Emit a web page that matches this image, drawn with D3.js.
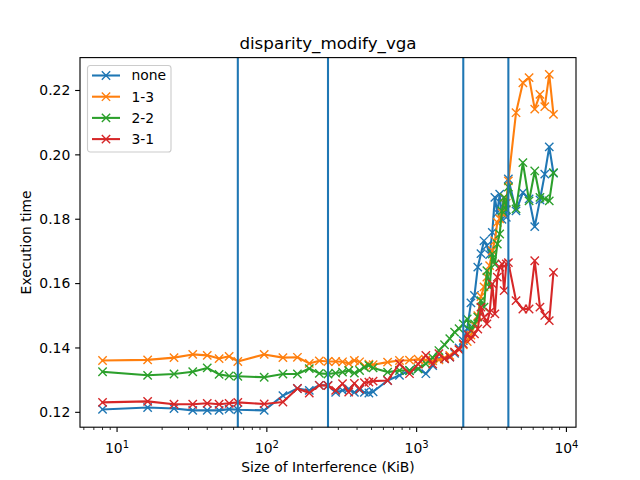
<!DOCTYPE html>
<html>
<head>
<meta charset="utf-8">
<script src="https://cdn.jsdelivr.net/npm/d3@7"></script>
<style>
  body { margin: 0; background: #fff; }
  text { font-family: "DejaVu Sans", sans-serif; fill: #000; }
</style>
</head>
<body>
<svg id="chart" width="640" height="480"></svg>
<script>
// Interference sizes in KiB (x values)
var sizes = [8, 16, 24, 32, 40, 48, 56, 64,
  96, 128, 160, 192, 224, 256,
  288, 320, 352, 384, 416, 448, 480, 512,
  640, 768, 896, 1024, 1152, 1280, 1408, 1536, 1664, 1792, 1920, 2048,
  2176, 2304, 2432, 2560, 2688, 2816, 2944, 3072, 3200, 3328, 3456, 3584, 3712, 3840, 3968, 4096,
  4608, 5120, 5632, 6144, 6656, 7168, 7680, 8192];

// Execution time for each configuration
var none = [0.1209, 0.1215, 0.1212, 0.1206, 0.1206, 0.1206, 0.1210, 0.1208,
  0.1206, 0.1252, 0.1274, 0.1268, 0.1284, 0.1284,
  0.1262, 0.1268, 0.1273, 0.1262, 0.1270, 0.1262, 0.1260, 0.1264,
  0.1299, 0.1315, 0.1330, 0.1335, 0.1320, 0.1345, 0.1367, 0.1367, 0.1372, 0.1383, 0.1400, 0.1423,
  0.1460, 0.1540, 0.1563, 0.1651, 0.1693, 0.1733, 0.1718, 0.1690, 0.1759, 0.1868, 0.1820, 0.1878, 0.1800, 0.1850, 0.1806, 0.1925,
  0.1826, 0.1883, 0.1863, 0.1777, 0.1860, 0.1940, 0.2025, 0.1943];

var s13 = [0.1361, 0.1363, 0.1370, 0.1380, 0.1377, 0.1367, 0.1374, 0.1358,
  0.1380, 0.1370, 0.1371, 0.1352, 0.1360, 0.1358,
  0.1358, 0.1357, 0.1352, 0.1361, 0.1357, 0.1343, 0.1350, 0.1348,
  0.1356, 0.1361, 0.1362, 0.1365, 0.1362, 0.1360, 0.1363, 0.1370, 0.1377, 0.1387, 0.1395, 0.1410,
  0.1420, 0.1440, 0.1470, 0.1500, 0.1560, 0.1590, 0.1620, 0.1656, 0.1702, 0.1733, 0.1790, 0.1801, 0.1820, 0.1868, 0.1850, 0.1919,
  0.2131, 0.2224, 0.2240, 0.2142, 0.2188, 0.2150, 0.2250, 0.2126];

var s22 = [0.1326, 0.1315, 0.1319, 0.1326, 0.1338, 0.1318, 0.1313, 0.1312,
  0.1309, 0.1319, 0.1319, 0.1336, 0.1321, 0.1319,
  0.1322, 0.1325, 0.1330, 0.1322, 0.1330, 0.1340, 0.1346, 0.1338,
  0.1325, 0.1330, 0.1330, 0.1335, 0.1351, 0.1370, 0.1392, 0.1410, 0.1429, 0.1449, 0.1460, 0.1475,
  0.1490, 0.1454, 0.1475, 0.1496, 0.1547, 0.1527, 0.1640, 0.1589, 0.1692, 0.1660, 0.1723, 0.1754, 0.1826, 0.1868, 0.1830, 0.1900,
  0.1832, 0.1976, 0.1857, 0.1950, 0.1868, 0.1863, 0.1857, 0.1945];

var s31 = [0.1231, 0.1234, 0.1225, 0.1225, 0.1228, 0.1225, 0.1228, 0.1231,
  0.1226, 0.1232, 0.1274, 0.1260, 0.1284, 0.1283,
  0.1268, 0.1289, 0.1263, 0.1290, 0.1272, 0.1292, 0.1294, 0.1297,
  0.1299, 0.1351, 0.1320, 0.1350, 0.1377, 0.1350, 0.1382, 0.1366, 0.1372, 0.1387, 0.1395, 0.1413,
  0.1444, 0.1428, 0.1444, 0.1459, 0.1527, 0.1496, 0.1475, 0.1511, 0.1599, 0.1506, 0.1620, 0.1651, 0.1661, 0.1578, 0.1661, 0.1665,
  0.1547, 0.1521, 0.1521, 0.1671, 0.1527, 0.1501, 0.1485, 0.1635];

var seriesNames = ["none", "1-3", "2-2", "3-1"];
var seriesColors = ["#1f77b4", "#ff7f0e", "#2ca02c", "#d62728"];
var seriesValues = [none, s13, s22, s31];

// Cache size markers (KiB)
var cacheLines = [64, 256, 2048, 4096];

var yTicks = [0.12, 0.14, 0.16, 0.18, 0.20, 0.22];
var xTicks = [10, 100, 1000, 10000];

var svg = d3.select("#chart");
// plot area (window.top is reserved, so use own names)
var axL = 80, axR = 576, axT = 57.6, axB = 427.2;

// log x scale with 5% margins like matplotlib
var lx = [Math.log10(d3.min(sizes)), Math.log10(d3.max(sizes))];
var padX = (lx[1] - lx[0]) * 0.05;
var x = d3.scaleLog()
  .domain([Math.pow(10, lx[0] - padX), Math.pow(10, lx[1] + padX)])
  .range([axL, axR]);

var allVals = d3.merge(seriesValues);
var ymin = d3.min(allVals), ymax = d3.max(allVals);
var padY = (ymax - ymin) * 0.05;
var y = d3.scaleLinear()
  .domain([ymin - padY, ymax + padY])
  .range([axB, axT]);

svg.append("rect").attr("width", 640).attr("height", 480).attr("fill", "#fff");

var plot = svg.append("g");

// lines and x markers
var line = d3.line()
  .x((d, i) => x(sizes[i]))
  .y(d => y(d));

seriesValues.forEach((vals, k) => {
  var g = plot.append("g");
  g.append("path")
    .attr("d", line(vals))
    .attr("fill", "none")
    .attr("stroke", seriesColors[k])
    .attr("stroke-width", 2.08)
    .attr("stroke-linejoin", "round")
    .attr("stroke-linecap", "square");
  var m = 4.17;
  g.selectAll("path.mk")
    .data(vals)
    .enter()
    .append("path")
    .attr("class", "mk")
    .attr("d", (d, i) => {
      var cx = x(sizes[i]), cy = y(d);
      return "M" + (cx - m) + "," + (cy - m) + "L" + (cx + m) + "," + (cy + m) +
        "M" + (cx - m) + "," + (cy + m) + "L" + (cx + m) + "," + (cy - m);
    })
    .attr("stroke", seriesColors[k])
    .attr("stroke-width", 1.39)
    .attr("fill", "none");
});

// vertical cache lines
plot.selectAll("line.cache")
  .data(cacheLines)
  .enter()
  .append("line")
  .attr("x1", d => x(d)).attr("x2", d => x(d))
  .attr("y1", axT).attr("y2", axB)
  .attr("stroke", "#1f77b4")
  .attr("stroke-width", 2.08);

// x axis: major ticks with 10^n labels, minor ticks in between
var minor = [];
for (var e = 0; e <= 4; e++) {
  for (var j = 2; j <= 9; j++) {
    var v = j * Math.pow(10, e);
    if (v >= x.domain()[0] && v <= x.domain()[1]) minor.push(v);
  }
}
var xAxis = svg.append("g");
xAxis.selectAll("line.minor")
  .data(minor)
  .enter()
  .append("line")
  .attr("x1", d => x(d)).attr("x2", d => x(d))
  .attr("y1", axB).attr("y2", axB + 2.78)
  .attr("stroke", "#000").attr("stroke-width", 0.83);
xAxis.selectAll("line.major")
  .data(xTicks)
  .enter()
  .append("line")
  .attr("x1", d => x(d)).attr("x2", d => x(d))
  .attr("y1", axB).attr("y2", axB + 4.86)
  .attr("stroke", "#000").attr("stroke-width", 1.11);
var xl = xAxis.selectAll("text.tl")
  .data(xTicks)
  .enter()
  .append("text")
  .attr("x", d => x(d))
  .attr("y", 453)
  .attr("text-anchor", "middle")
  .style("font-size", "13.9px");
xl.append("tspan").text("10");
xl.append("tspan")
  .attr("dy", -5.5)
  .style("font-size", "10px")
  .text(d => Math.round(Math.log10(d)));

// y axis
var yAxis = svg.append("g");
yAxis.selectAll("line")
  .data(yTicks)
  .enter()
  .append("line")
  .attr("x1", axL - 4.86).attr("x2", axL)
  .attr("y1", d => y(d)).attr("y2", d => y(d))
  .attr("stroke", "#000").attr("stroke-width", 1.11);
yAxis.selectAll("text")
  .data(yTicks)
  .enter()
  .append("text")
  .attr("x", axL - 9.7)
  .attr("y", d => y(d))
  .attr("dy", "0.35em")
  .attr("text-anchor", "end")
  .style("font-size", "13.9px")
  .text(d => d.toFixed(2));

// frame
svg.append("rect")
  .attr("x", axL).attr("y", axT)
  .attr("width", axR - axL).attr("height", axB - axT)
  .attr("fill", "none")
  .attr("stroke", "#000")
  .attr("stroke-width", 1.11);

// titles
svg.append("text")
  .attr("x", (axL + axR) / 2).attr("y", 49)
  .attr("text-anchor", "middle")
  .style("font-size", "16.7px")
  .text("disparity_modify_vga");
svg.append("text")
  .attr("x", (axL + axR) / 2).attr("y", 472)
  .attr("text-anchor", "middle")
  .style("font-size", "13.9px")
  .text("Size of Interference (KiB)");
svg.append("text")
  .attr("transform", "translate(31," + ((axT + axB) / 2) + ") rotate(-90)")
  .attr("text-anchor", "middle")
  .style("font-size", "13.9px")
  .text("Execution time");

// legend
var leg = svg.append("g").attr("transform", "translate(87.5,65.5)");
leg.append("rect")
  .attr("width", 83.5).attr("height", 86.5)
  .attr("rx", 2.8)
  .attr("fill", "#fff").attr("fill-opacity", 0.8)
  .attr("stroke", "#cccccc").attr("stroke-width", 1.11);
seriesNames.forEach((name, k) => {
  var ry = 10 + k * 21.2;
  leg.append("line")
    .attr("x1", 4.5).attr("x2", 32.5)
    .attr("y1", ry).attr("y2", ry)
    .attr("stroke", seriesColors[k]).attr("stroke-width", 2.08);
  leg.append("path")
    .attr("d", "M" + (18.5 - 4.17) + "," + (ry - 4.17) + "l8.34,8.34M" + (18.5 - 4.17) + "," + (ry + 4.17) + "l8.34,-8.34")
    .attr("stroke", seriesColors[k]).attr("stroke-width", 1.39);
  leg.append("text")
    .attr("x", 44).attr("y", ry)
    .attr("dy", "0.35em")
    .style("font-size", "13.9px")
    .text(name);
});
</script>
</body>
</html>
